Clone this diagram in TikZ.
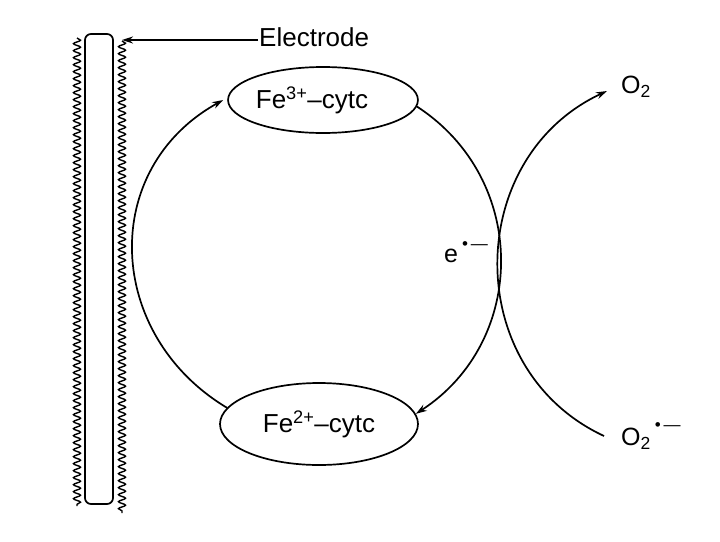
\documentclass[tikz,border=0pt]{standalone}
\usepackage{fontspec}
\setmainfont{Liberation Sans}
\usetikzlibrary{arrows.meta,decorations.pathmorphing,shapes.geometric}

\newcommand{\radsup}[1]{\raisebox{#1}{\fontsize{17}{17}\selectfont\kern4pt•\,—}}

\begin{document}
\begin{tikzpicture}[
  x=1pt,
  y=1pt,
  >={Stealth[length=11pt,width=7pt]},
  species/.style={draw, ellipse, line width=1.7pt, inner sep=0pt, font=\fontsize{26}{30}\selectfont},
  lbl/.style={inner sep=0pt, font=\fontsize{26}{30}\selectfont},
  rel/.style={line width=1.7pt},
  wavy/.style={line width=1.4pt, decorate, decoration={snake, amplitude=3.5pt, segment length=7pt}}
]
  \path[fill=white] (0,0) rectangle (720,-541);

  \node[draw, rounded corners=6pt, line width=1.7pt, minimum width=28pt, minimum height=470pt, inner sep=0pt] (rod) at (99,-269) {};
  \coordinate (wl top) at (77,-38);
  \coordinate (wl bot) at (77,-506);
  \coordinate (wr top) at (122,-41);
  \coordinate (wr bot) at (122,-513);
  \draw[wavy] (wl top) -- (wl bot);
  \draw[wavy] (wr top) -- (wr bot);

  \node[lbl, anchor=west, inner sep=1pt] (electrode) at (258,-37) {Electrode};
  \draw[rel, ->] ([yshift=-3pt]electrode.west) -- ([yshift=-3pt]electrode.west -| wr top);

  \node[species, minimum width=182pt, minimum height=66pt] (fe3) at (323,-100) {Fe\textsuperscript{3+}–cytc\hspace*{22pt}};
  \node[species, minimum width=198pt, minimum height=82pt] (fe2) at (319,-424) {Fe\textsuperscript{2+}–cytc};

  \draw[rel, ->] (fe2.170) to[out=149, in=209, looseness=1.18] ([xshift=-4pt]fe3.west);
  \draw[rel, ->] (fe3.-4) to[out=-33, in=33, looseness=1.11] (fe2.6);

  \node[lbl, font=\fontsize{25}{28}\selectfont] (electron) at (466,-252) {e\radsup{13pt}};

  \node[lbl, anchor=west, font=\fontsize{25}{28}\selectfont] (o2) at (621,-87) {O\textsubscript{2}};
  \node[lbl, anchor=west, font=\fontsize{25}{28}\selectfont] (o2rad) at (621,-436) {O\textsubscript{2}\radsup{15pt}};

  \draw[rel, ->] ([xshift=-17pt]o2rad.west) to[out=155, in=205, looseness=1.17] ([shift={(-14pt,-4pt)}]o2.west);
\end{tikzpicture}
\end{document}
